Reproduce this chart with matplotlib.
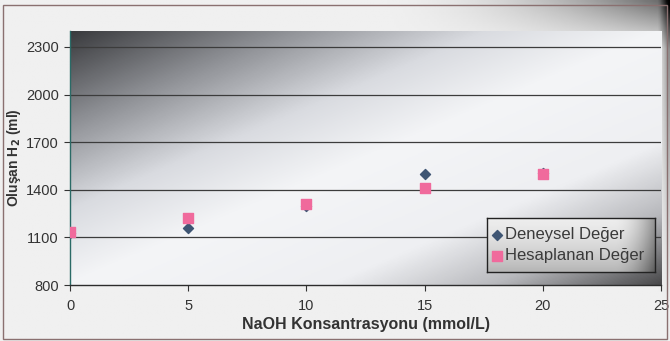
import numpy as np
import matplotlib.pyplot as plt
from matplotlib.colors import LinearSegmentedColormap
from matplotlib.patches import Rectangle

plt.rcParams['font.family'] = ['Liberation Sans', 'DejaVu Sans']

# NaOH concentration (mmol/L) and produced H2 volume (ml)
naoh = [0, 5, 10, 15, 20]
deneysel = [1130, 1157, 1300, 1502, 1505]
hesaplanan = [1133, 1219, 1308, 1408, 1500]

y_ticks = [800, 1100, 1400, 1700, 2000, 2300]
x_ticks = [0, 5, 10, 15, 20, 25]

fig = plt.figure(figsize=(6.7, 3.41), dpi=100)

# light chart area with a darker shade in the upper right corner
bg = fig.add_axes([0, 0, 1, 1], zorder=-10)
gx, gy = np.meshgrid(np.linspace(0, 1, 300), np.linspace(0, 1, 150))
shade = 0.94 - 0.55 * np.clip((gx - 0.55) / 0.45, 0, 1) ** 2 * np.clip((gy - 0.86) / 0.14, 0, 1)
shade -= 0.45 * np.clip((gx - 0.985) / 0.015, 0, 1) * np.clip((gy - 0.1) / 0.9, 0, 1)
bg.imshow(shade, cmap='gray', vmin=0, vmax=1, extent=[0, 1, 0, 1],
          origin='lower', aspect='auto', interpolation='bilinear')
bg.set_axis_off()
fig.patches.append(Rectangle((0.004, 0.006), 0.992, 0.978, transform=fig.transFigure,
                             fill=False, edgecolor='#8a7070', linewidth=1.0))

ax = fig.add_axes([0.1045, 0.1642, 0.8821, 0.7448])
ax.set_xlim(0, 25)
ax.set_ylim(800, 2400)

# diagonal grey gradient behind the plot area
cmap = LinearSegmentedColormap.from_list('plotbg', [
    (0.0, '#3a3b3e'), (0.18, '#8e9095'), (0.35, '#d9dbe0'), (0.5, '#f4f5f7'),
    (0.72, '#eeeff2'), (0.86, '#b8b9bd'), (1.0, '#4a4a4c')])
px, py = np.meshgrid(np.linspace(0, 1, 400), np.linspace(0, 1, 200))
t = (px + (1 - py)) / 2
ax.imshow(t, cmap=cmap, vmin=0, vmax=1, extent=[0, 25, 800, 2400],
          origin='lower', aspect='auto', interpolation='bilinear', zorder=0)

for yv in y_ticks[1:]:
    ax.axhline(yv, color='#3c3c3c', linewidth=0.9, zorder=1)

h1 = ax.scatter(naoh, deneysel, marker='D', s=26, color='#3e5573', zorder=3)
h2 = ax.scatter(naoh, hesaplanan, marker='s', s=62, color='#f06a9c', zorder=4)

ax.set_xticks(x_ticks)
ax.set_yticks(y_ticks)
ax.tick_params(axis='both', labelsize=10.5, colors='#333333', length=4, width=0.8,
               direction='out')
ax.tick_params(axis='x', pad=6)
ax.tick_params(axis='y', pad=4)
for lbl in ax.get_xticklabels() + ax.get_yticklabels():
    lbl.set_color('#333333')

for side in ['top', 'right']:
    ax.spines[side].set_visible(False)
ax.spines['left'].set_color('#2a6a66')
ax.spines['bottom'].set_color('#2c2c2c')
ax.spines['left'].set_linewidth(1.0)
ax.spines['bottom'].set_linewidth(1.0)

ax.set_xlabel('NaOH Konsantrasyonu (mmol/L)', fontsize=11.5, fontweight='bold',
              color='#333333', va='center')
ax.xaxis.set_label_coords(0.5, -0.154)
ax.set_ylabel('Oluşan H$_\\mathbf{2}$ (ml)', fontsize=10, fontweight='bold',
              color='#333333', va='center')
ax.yaxis.set_label_coords(-0.095, 0.5)

# legend box with its own shading
lax = ax.inset_axes([0.706, 0.051, 0.284, 0.213])
lx, ly = np.meshgrid(np.linspace(0, 1, 200), np.linspace(0, 1, 100))
lshade = 0.93 - 0.22 * (1 - ly) ** 1.5 - 0.35 * np.clip((lx - 0.75) / 0.25, 0, 1) ** 2
lax.imshow(lshade, cmap='gray', vmin=0, vmax=1, extent=[0, 1, 0, 1],
           origin='lower', aspect='auto', interpolation='bilinear')
lax.set_xticks([])
lax.set_yticks([])
for sp in lax.spines.values():
    sp.set_color('#222222')
    sp.set_linewidth(1.0)

leg = lax.legend([h1, h2], ['Deneysel Değer', 'Hesaplanan Değer'],
                 loc='center left', bbox_to_anchor=(0, 0, 1, 1), frameon=False,
                 fontsize=12, handletextpad=0.05, handlelength=0.8,
                 borderpad=0.2, labelspacing=0.35, borderaxespad=0)
for txt in leg.get_texts():
    txt.set_color('#3a3a3a')

fig.savefig('out.png', dpi=100)
